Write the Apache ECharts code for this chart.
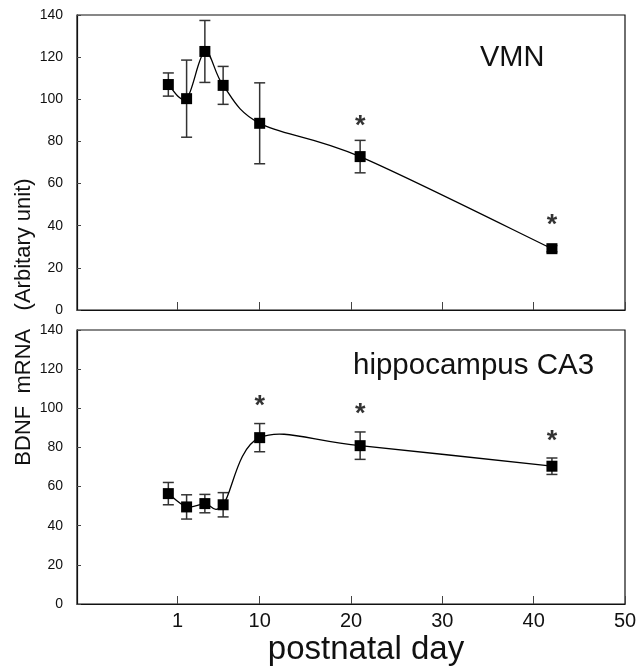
<!DOCTYPE html>
<html>
<head>
<meta charset="utf-8">
<script src="https://cdn.jsdelivr.net/npm/echarts@6/dist/echarts.min.js"></script>
<style>
    html, body { margin: 0; padding: 0; background: #fff; }
    #main { width: 644px; height: 666px; }
</style>
</head>
<body>
<div id="main"></div>
<script>
// postnatal day of each sample
const days = [0, 2, 4, 6, 10, 21, 42]
// VMN panel
const vmnMean = [107, 100.3, 122.7, 106.6, 88.6, 72.8, 29.1]
const vmnErr = [5.5, 18.3, 14.7, 9, 19.2, 7.7, 1.5]
const vmnStars = [[21, 89.8], [42, 42.9]]
// hippocampus CA3 panel
const ca3Mean = [56.4, 49.6, 51.3, 50.7, 85, 80.9, 70.4]
const ca3Err = [5.7, 6.2, 4.7, 6.2, 7.2, 7, 4.2]
const ca3Stars = [[10, 104], [21, 100], [42, 85.9]]
// axis ticks
const xTicks = [1, 10, 20, 30, 40, 50]
const yMax = 140
const yStep = 20

const font = 'Liberation Sans, Arial, sans-serif'
const ink = '#111'

// error bar drawn with api.coord
function errorBar (params, api) {
    const x = api.value(0)
    const y = api.value(1)
    const e = api.value(2)
    const top = api.coord([x, y + e])
    const bot = api.coord([x, y - e])
    const w = 5.5
    const style = { stroke: '#333', lineWidth: 1.5 }
    return {
        type: 'group',
        children: [
            { type: 'line', shape: { x1: top[0], y1: top[1], x2: bot[0], y2: bot[1] }, style: style },
            { type: 'line', shape: { x1: top[0] - w, y1: top[1], x2: top[0] + w, y2: top[1] }, style: style },
            { type: 'line', shape: { x1: bot[0] - w, y1: bot[1], x2: bot[0] + w, y2: bot[1] }, style: style }
        ]
    }
}

// smooth curve (catmull-rom) from point i to point i+1
function curveOf (mean) {
    return function (params, api) {
        const i = params.dataIndex
        const n = days.length
        if (i >= n - 1) return null
        const P = (j) => api.coord([days[j], mean[j]])
        const p0 = P(Math.max(i - 1, 0))
        const p1 = P(i)
        const p2 = P(i + 1)
        const p3 = P(Math.min(i + 2, n - 1))
        const t1 = [(p2[0] - p0[0]) / 2, (p2[1] - p0[1]) / 2]
        const t2 = [(p3[0] - p1[0]) / 2, (p3[1] - p1[1]) / 2]
        return {
            type: 'bezierCurve',
            shape: {
                x1: p1[0], y1: p1[1],
                x2: p2[0], y2: p2[1],
                cpx1: p1[0] + t1[0] / 3, cpy1: p1[1] + t1[1] / 3,
                cpx2: p2[0] - t2[0] / 3, cpy2: p2[1] - t2[1] / 3
            },
            style: { stroke: '#000', lineWidth: 1.3, fill: null }
        }
    }
}

function xAxisOf (idx, withLabels) {
    return {
        type: 'value',
        gridIndex: idx,
        min: -10,
        max: 50,
        axisLine: { onZero: false, lineStyle: { color: ink, width: 1.2 } },
        axisTick: { inside: true, length: 8, customValues: xTicks, lineStyle: { color: '#444' } },
        axisLabel: {
            show: withLabels,
            customValues: xTicks,
            margin: 7,
            fontSize: 20,
            fontFamily: font,
            color: ink
        },
        splitLine: { show: false }
    }
}

function yAxisOf (idx) {
    return {
        type: 'value',
        gridIndex: idx,
        min: 0,
        max: yMax,
        interval: yStep,
        axisLine: { show: true, onZero: false, lineStyle: { color: ink, width: 1.2 } },
        axisTick: { inside: true, length: 4, lineStyle: { color: '#444' } },
        axisLabel: { margin: 14, fontSize: 14, fontFamily: font, color: ink },
        splitLine: { show: false }
    }
}

function panelSeries (idx, mean, err, stars) {
    const pts = days.map((d, i) => [d, mean[i]])
    const bars = days.map((d, i) => [d, mean[i], err[i]])
    return [
        {
            type: 'custom',
            xAxisIndex: idx,
            yAxisIndex: idx,
            renderItem: errorBar,
            data: bars,
            z: 2
        },
        {
            type: 'custom',
            xAxisIndex: idx,
            yAxisIndex: idx,
            renderItem: curveOf(mean),
            data: pts,
            z: 2
        },
        {
            type: 'scatter',
            xAxisIndex: idx,
            yAxisIndex: idx,
            data: pts,
            symbol: 'rect',
            symbolSize: 11,
            itemStyle: { color: '#000', opacity: 1 },
            z: 3
        },
        {
            // significance asterisks
            type: 'scatter',
            xAxisIndex: idx,
            yAxisIndex: idx,
            data: stars,
            symbolSize: 0,
            label: {
                show: true,
                position: 'inside',
                offset: [0, 6],
                formatter: '*',
                fontSize: 27,
                fontWeight: 'bold',
                fontFamily: font,
                color: '#000'
            },
            z: 4
        }
    ]
}

const option = {
    animation: false,
    backgroundColor: '#fff',
    grid: [
        { left: 77, top: 15, width: 548, height: 295, show: true, borderColor: ink, borderWidth: 1.2 },
        { left: 77, top: 330, width: 548, height: 274, show: true, borderColor: ink, borderWidth: 1.2 }
    ],
    xAxis: [xAxisOf(0, false), xAxisOf(1, true)],
    yAxis: [yAxisOf(0), yAxisOf(1)],
    series: panelSeries(0, vmnMean, vmnErr, vmnStars).concat(panelSeries(1, ca3Mean, ca3Err, ca3Stars)),
    graphic: [
        {
            type: 'text',
            left: 480, top: 43,
            style: { text: 'VMN', font: '29px ' + font, fill: ink }
        },
        {
            type: 'text',
            left: 353, top: 351,
            style: { text: 'hippocampus CA3', font: '29.5px ' + font, fill: ink }
        },
        {
            type: 'text',
            x: 24, y: 322,
            rotation: Math.PI / 2,
            style: {
                text: 'BDNF  mRNA   (Arbitary unit)',
                font: '22px ' + font,
                fill: ink,
                align: 'center',
                verticalAlign: 'middle'
            }
        },
        {
            type: 'text',
            x: 366, y: 650,
            style: {
                text: 'postnatal day',
                font: '33px ' + font,
                fill: ink,
                align: 'center',
                verticalAlign: 'middle'
            }
        }
    ]
}

const myChart = echarts.init(document.getElementById('main'))
myChart.setOption(option)
</script>
</body>
</html>
